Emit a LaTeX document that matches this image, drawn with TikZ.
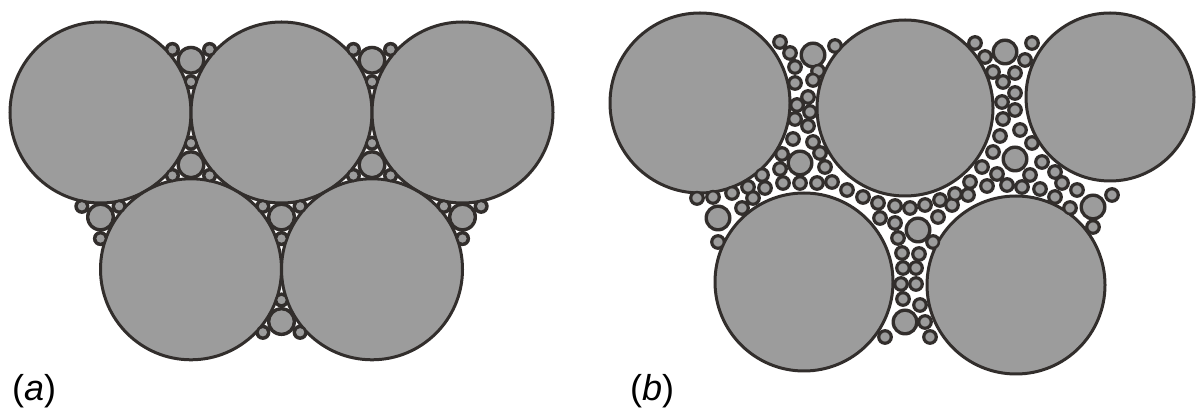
\documentclass[tikz,border=0pt]{standalone}
\usepackage{fontspec}
\setmainfont{Liberation Sans}
\usepackage{xcolor}
\usepackage{tikz}
\usetikzlibrary{positioning}

\definecolor{rim}{RGB}{50,46,44}
\definecolor{grainfill}{RGB}{156,156,156}

% pore centres of panel (b)
\def\midpores{813/365, 800/257, 718/202, 918/190, 905/98, 1005/368, 1015/261, 1093/213}
\def\finepores{780/378, 790/367, 835/374, 795/353, 818/349, 795/337, 813/340,
  808/323, 797/315, 810/308, 795/301, 808/294, 793/281, 813/278,
  782/266, 820/267, 825/253, 780/251,
  762/245, 748/233, 765/232, 783/237, 800/237, 817/237, 832/238,
  847/230, 863/223, 878/217, 697/222, 713/223, 732/227, 753/222,
  742/212, 718/178,
  895/214, 910/212, 925/215, 940/220, 952/215, 955/226, 938/203,
  880/202, 895/197, 898/182, 933/178,
  902/167, 919/166, 903/152, 916/152, 901/136, 916/136,
  903/121, 920/115, 925/98, 885/83, 930/83,
  975/377, 1032/377, 985/363, 1025/360, 993/348, 1015/347,
  1003/338, 1015/327, 1002/318, 1015/310, 1003/301, 1020/290,
  1000/284, 993/268, 1032/277, 1042/258, 982/253, 997/246,
  1030/245, 1055/248, 970/238, 987/234, 1007/235, 1022/233,
  1040/231, 1062/237, 1077/230, 968/225, 1055/223, 1070/212,
  1112/225, 1093/193}
% open/closed interstices of panel (a): centroid and turn
\def\groupsa{191/359.75/30, 372/359.75/30, 191/255.25/90, 372/255.25/90,
  281.5/202.95/30, 100.5/202.95/30, 462.5/202.95/30, 281.5/98.45/90}

\begin{document}
\begin{tikzpicture}[
  x=1pt, y=1pt,
  bigball/.style={draw=rim, fill=grainfill, line width=3pt},
  midball/.style={draw=rim, fill=grainfill, line width=2.6pt},
  fineball/.style={draw=rim, fill=grainfill, line width=2.5pt},
  shade/.style={fill=rim},
  tag/.style={font=\fontsize{36}{42}\selectfont, inner sep=0pt},
]
\useasboundingbox (0,0) rectangle (1196,420);

%─── Dark filling between the pores (under the grains) ────────────────────────
\foreach \cx/\cy/\rot in \groupsa {
  \fill[shade] (\cx,\cy) circle[radius=14.5];
  \foreach \k in {0,1,2}
    \fill[shade] (\cx,\cy) ++({\rot+120*\k}:21.5) circle[radius=7.6];
}
\foreach \cx/\cy in \midpores
  \fill[shade] (\cx,\cy) circle[radius=13.5];
\foreach \cx/\cy in \finepores
  \fill[shade] (\cx,\cy) circle[radius=7.9];

%─── Panel (a): touching grains ───────────────────────────────────────────────
\foreach \cx/\cy in {100.5/307.5, 281.5/307.5, 462.5/307.5, 191/150.7, 372/150.7}
  \draw[bigball] (\cx,\cy) circle[radius=90.5];

% one medium + three small pores per interstice
\foreach \cx/\cy/\rot in \groupsa {
  \draw[midball] (\cx,\cy) circle[radius=12.5];
  \foreach \k in {0,1,2}
    \draw[fineball] (\cx,\cy) ++({\rot+120*\k}:21.5) circle[radius=5.6];
}

%─── Panel (b): separated grains ──────────────────────────────────────────────
\foreach \cx/\cy/\r in {700/317/90, 905/312/88, 1110/323/84, 804/138/89, 1016/135/89}
  \draw[bigball] (\cx,\cy) circle[radius=\r];

\foreach \cx/\cy in \midpores
  \draw[midball] (\cx,\cy) circle[radius=11.5];
\foreach \cx/\cy in \finepores
  \draw[fineball] (\cx,\cy) circle[radius=5.9];

%─── Labels ───────────────────────────────────────────────────────────────────
\node[tag, anchor=west] (lbla) at (12,29) {(\textit{a})};
\node[tag, anchor=west] (lblb) at (630,29) {(\textit{b})};

\end{tikzpicture}
\end{document}
